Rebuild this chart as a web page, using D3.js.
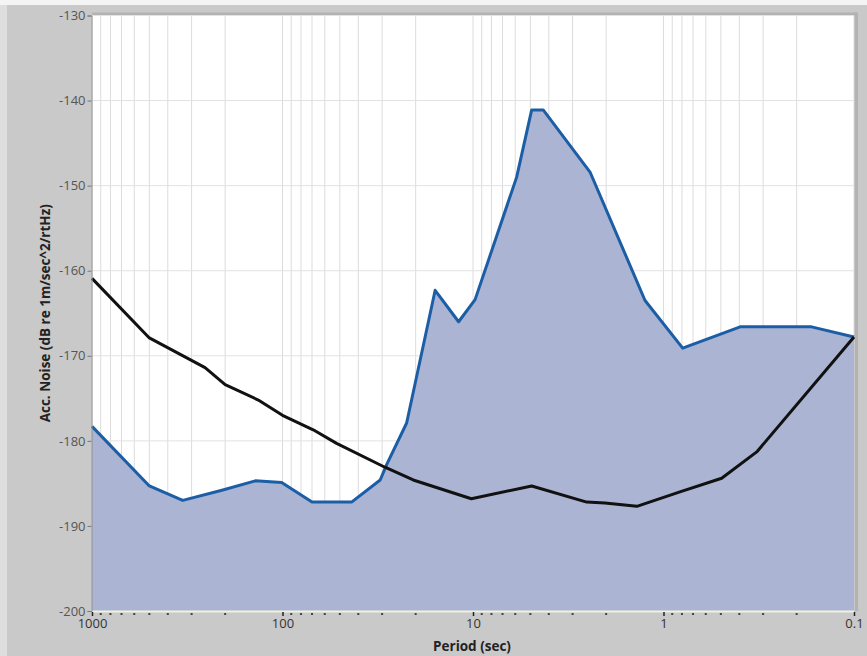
<!DOCTYPE html>
<html>
<head>
<meta charset="utf-8">
<script src="https://cdn.jsdelivr.net/npm/d3@7"></script>
<style>
  html, body { margin: 0; padding: 0; background: #c9c9c9; }
  svg { display: block; }
  text { font-family: "Open Sans", "DejaVu Sans", sans-serif; }
</style>
</head>
<body>
<svg id="chart" width="867" height="656"></svg>
<script>
// Measured station noise (period in seconds, dB)
const noisePeriods = [1000, 500, 334, 208, 139, 101, 70, 43.4, 30.7, 28.4, 22.3, 15.8, 11.9, 9.75, 5.9, 4.92, 4.28, 2.43, 1.25, 0.793, 0.396, 0.167, 0.1];
const noiseValues  = [-178.3, -185.3, -187.0, -185.8, -184.7, -184.9, -187.2, -187.2, -184.6, -182.8, -177.9, -162.3, -166.0, -163.4, -149.0, -141.1, -141.1, -148.4, -163.5, -169.1, -166.6, -166.6, -167.8];

// Reference low-noise model curve
const modelPeriods = [1000, 500, 255, 200, 134, 100, 69, 52, 29, 20.6, 10.2, 4.92, 2.53, 2.03, 1.38, 0.82, 0.495, 0.324, 0.1];
const modelValues  = [-160.9, -167.9, -171.4, -173.4, -175.2, -177.0, -178.7, -180.3, -183.1, -184.6, -186.8, -185.3, -187.2, -187.3, -187.7, -186.0, -184.4, -181.3, -167.8];

// Axis ticks
const xTickLabels = [1000, 100, 10, 1, 0.1];
const yTickValues = [-200, -190, -180, -170, -160, -150, -140, -130];

const svg = d3.select("#chart");
const W = 867, H = 656;
const plot = { left: 92, right: 854, top: 15.5, bottom: 611 };

// panel background
svg.append("rect").attr("x", 0).attr("y", 0).attr("width", W).attr("height", H).attr("fill", "#c9c9c9");
svg.append("rect").attr("x", 0).attr("y", 0).attr("width", 7).attr("height", H).attr("fill", "#dedede");
svg.append("rect").attr("x", 0).attr("y", 0).attr("width", W).attr("height", 5).attr("fill", "#f4f4f4");
// frame around the plot area
svg.append("rect").attr("x", plot.left).attr("y", plot.top - 3).attr("width", plot.right - plot.left + 4).attr("height", 3).attr("fill", "#b3b3b3");
svg.append("rect").attr("x", plot.right).attr("y", plot.top - 3).attr("width", 4).attr("height", plot.bottom - plot.top + 3).attr("fill", "#b3b3b3");

const x = d3.scaleLog().domain([1000, 0.1]).range([plot.left, plot.right]);
const y = d3.scaleLinear().domain([-200, -130]).range([plot.bottom, plot.top]);

// plot background
svg.append("rect")
  .attr("x", plot.left).attr("y", plot.top)
  .attr("width", plot.right - plot.left).attr("height", plot.bottom - plot.top)
  .attr("fill", "#ffffff");

// grid
const minorTicks = x.ticks(40);
svg.append("g").selectAll("line").data(minorTicks).join("line")
  .attr("x1", d => x(d)).attr("x2", d => x(d))
  .attr("y1", plot.top).attr("y2", plot.bottom)
  .attr("stroke", "#dcdcdc").attr("stroke-width", 1);
svg.append("g").selectAll("line").data(yTickValues).join("line")
  .attr("x1", plot.left).attr("x2", plot.right)
  .attr("y1", d => y(d)).attr("y2", d => y(d))
  .attr("stroke", "#e2e2e2").attr("stroke-width", 1);

const noise = noisePeriods.map((p, i) => [p, noiseValues[i]]);
const model = modelPeriods.map((p, i) => [p, modelValues[i]]);

// filled noise area
svg.append("path")
  .datum(noise)
  .attr("d", d3.area().x(d => x(d[0])).y0(y(-200)).y1(d => y(d[1])))
  .attr("fill", "#abb4d3");

svg.append("path")
  .datum(noise)
  .attr("d", d3.line().x(d => x(d[0])).y(d => y(d[1])))
  .attr("fill", "none").attr("stroke", "#1c5ea6").attr("stroke-width", 3)
  .attr("stroke-linejoin", "round");

svg.append("path")
  .datum(model)
  .attr("d", d3.line().x(d => x(d[0])).y(d => y(d[1])))
  .attr("fill", "none").attr("stroke", "#111111").attr("stroke-width", 3)
  .attr("stroke-linejoin", "round");

// bottom edge of plot
svg.append("line")
  .attr("x1", plot.left).attr("x2", plot.right)
  .attr("y1", plot.bottom + 0.5).attr("y2", plot.bottom + 0.5)
  .attr("stroke", "#eef2e0").attr("stroke-width", 2);

// y axis
const yAxis = d3.axisLeft(y).tickValues(yTickValues).tickFormat(d => String(d)).tickSize(4).tickPadding(2);
const gy = svg.append("g").attr("transform", `translate(${plot.left - 0.5},0)`).call(yAxis);
gy.select(".domain").attr("stroke", "#8e8e8e");
gy.selectAll(".tick line").attr("stroke", "#777");
gy.selectAll("text").attr("font-size", 13).attr("fill", "#555").attr("font-family", "'Open Sans', sans-serif");

// x axis
const xAxis = d3.axisBottom(x).tickValues(xTickLabels).tickFormat(d3.format("~g")).tickSize(4).tickPadding(3);
const gx = svg.append("g").attr("transform", `translate(0,${plot.bottom + 1})`).call(xAxis);
gx.select(".domain").remove();
gx.selectAll(".tick line").attr("stroke", "#222").attr("stroke-width", 1.5);
gx.selectAll("text").attr("font-size", 13).attr("fill", "#333").attr("font-family", "'Open Sans', sans-serif");
// minor tick dots
svg.append("g").selectAll("rect").data(minorTicks.filter(d => !xTickLabels.includes(d))).join("rect")
  .attr("x", d => x(d) - 1).attr("y", plot.bottom + 2)
  .attr("width", 2).attr("height", 2).attr("fill", "#444");

// axis titles
svg.append("text")
  .attr("x", (plot.left + plot.right) / 2 - 1).attr("y", 651)
  .attr("text-anchor", "middle").attr("font-size", 13.5).attr("font-weight", "bold").attr("fill", "#222")
  .text("Period (sec)");
svg.append("text")
  .attr("transform", `translate(50,${(plot.top + plot.bottom) / 2}) rotate(-90)`)
  .attr("text-anchor", "middle").attr("font-size", 13.5).attr("font-weight", "bold").attr("fill", "#222")
  .text("Acc. Noise (dB re 1m/sec^2/rtHz)");
</script>
</body>
</html>
